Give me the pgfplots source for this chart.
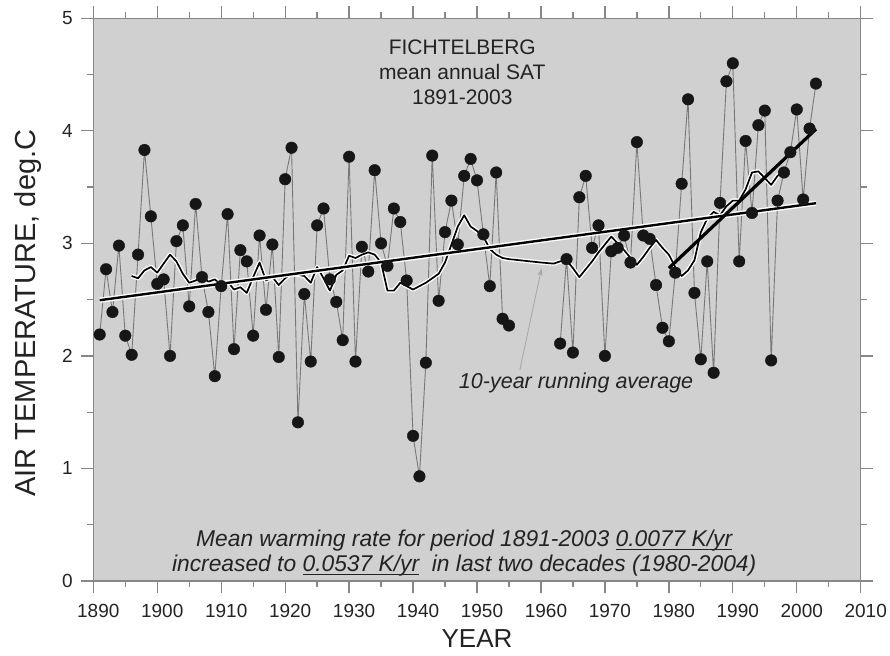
\documentclass[border=0pt]{standalone}
\usepackage{fontspec}
\setmainfont{Liberation Sans}
\usepackage{pgfplots}
\pgfplotsset{compat=1.18}
\usepackage{pgfplotstable}
\usetikzlibrary{arrows.meta}

\definecolor{panel}{RGB}{208,208,208}
\definecolor{frame}{RGB}{135,135,135}
\definecolor{link}{RGB}{120,120,120}
\definecolor{dot}{RGB}{22,22,22}
\definecolor{txt}{RGB}{35,35,35}

% underline sitting close to the baseline
\newcommand\ul[1]{\setbox0\hbox{#1}\rlap{\rule[-3.6pt]{\wd0}{1.1pt}}\box0}

% mean annual surface air temperature, Fichtelberg (nan = no record)
\pgfplotstableread{
year sat
1891 2.19
1892 2.77
1893 2.39
1894 2.98
1895 2.18
1896 2.01
1897 2.90
1898 3.83
1899 3.24
1900 2.64
1901 2.68
1902 2.00
1903 3.02
1904 3.16
1905 2.44
1906 3.35
1907 2.70
1908 2.39
1909 1.82
1910 2.62
1911 3.26
1912 2.06
1913 2.94
1914 2.84
1915 2.18
1916 3.07
1917 2.41
1918 2.99
1919 1.99
1920 3.57
1921 3.85
1922 1.41
1923 2.55
1924 1.95
1925 3.16
1926 3.31
1927 2.68
1928 2.48
1929 2.14
1930 3.77
1931 1.95
1932 2.97
1933 2.75
1934 3.65
1935 3.00
1936 2.80
1937 3.31
1938 3.19
1939 2.67
1940 1.29
1941 0.93
1942 1.94
1943 3.78
1944 2.49
1945 3.10
1946 3.38
1947 2.99
1948 3.60
1949 3.75
1950 3.56
1951 3.08
1952 2.62
1953 3.63
1954 2.33
1955 2.27
1959 nan
1963 2.11
1964 2.86
1965 2.03
1966 3.41
1967 3.60
1968 2.96
1969 3.16
1970 2.00
1971 2.93
1972 2.96
1973 3.07
1974 2.83
1975 3.90
1976 3.07
1977 3.04
1978 2.63
1979 2.25
1980 2.13
1981 2.74
1982 3.53
1983 4.28
1984 2.56
1985 1.97
1986 2.84
1987 1.85
1988 3.36
1989 4.44
1990 4.60
1991 2.84
1992 3.91
1993 3.27
1994 4.05
1995 4.18
1996 1.96
1997 3.38
1998 3.63
1999 3.81
2000 4.19
2001 3.39
2002 4.02
2003 4.42
}\annual

% 10-year running average
\pgfplotstableread{
year avg
1896 2.71
1897 2.69
1898 2.76
1899 2.79
1900 2.74
1901 2.82
1902 2.90
1903 2.84
1904 2.73
1905 2.65
1906 2.67
1907 2.70
1908 2.66
1909 2.68
1910 2.63
1911 2.66
1912 2.59
1913 2.61
1914 2.56
1915 2.70
1916 2.83
1917 2.67
1918 2.70
1919 2.63
1920 2.69
1921 2.73
1922 2.72
1923 2.71
1924 2.65
1925 2.79
1926 2.69
1927 2.58
1928 2.72
1929 2.76
1930 2.89
1931 2.87
1932 2.90
1933 2.92
1934 2.90
1935 2.83
1936 2.58
1937 2.58
1938 2.65
1939 2.62
1940 2.59
1941 2.62
1942 2.65
1943 2.69
1944 2.73
1945 2.83
1946 2.99
1947 3.15
1948 3.25
1949 3.15
1950 3.11
1951 3.06
1952 2.95
1953 2.90
1954 2.87
1955 2.86
1960 2.83
1962 2.82
1963 2.84
1964 2.85
1965 2.78
1966 2.70
1967 2.77
1968 2.84
1969 2.92
1970 2.99
1971 3.06
1972 3.00
1973 2.94
1974 2.87
1975 2.81
1976 2.88
1977 2.96
1978 3.03
1979 2.96
1980 2.90
1981 2.79
1982 2.71
1983 2.76
1984 2.85
1985 3.10
1986 3.22
1987 3.28
1988 3.25
1989 3.33
1990 3.38
1991 3.38
1992 3.48
1993 3.63
1994 3.64
1995 3.58
1996 3.52
1997 3.60
1998 3.65
}\running

\begin{document}
\begin{tikzpicture}
\path[use as bounding box] (-93.3pt,-74pt) rectangle (796.7pt,581pt);
\begin{axis}[
  at={(0,0)}, anchor=south west,
  scale only axis, width=767.4pt, height=562.7pt,
  xmin=1890, xmax=2010, ymin=0, ymax=5,
  xtick={1890,1900,...,2010}, ytick={0,1,...,5},
  minor x tick num=1, minor y tick num=1,
  tick align=outside,
  major tick length=12pt, minor tick length=6pt,
  every tick/.style={frame, line width=1.3pt},
  axis line style={frame, line width=1.5pt},
  axis background/.style={fill=panel},
  /pgf/number format/assume math mode=true,
  /pgf/number format/1000 sep={},
  tick label style={font=\fontsize{19}{22}\selectfont, text=txt},
  xticklabel style={xshift=5pt, yshift=-8pt},
  yticklabel style={xshift=-5pt},
  xlabel={YEAR}, ylabel={AIR TEMPERATURE, deg.C},
  xlabel style={font=\fontsize{26}{30}\selectfont, text=txt,
    at={(axis description cs:0.5,0)}, anchor=base, yshift=-66pt},
  ylabel style={font=\fontsize{29}{33}\selectfont, text=txt,
    at={(axis description cs:-0.0747,0.476)}, anchor=base},
  unbounded coords=jump,
  clip=false,
]
% thin links between the annual values
\addplot[link, line width=0.9pt, no marks] table[x=year, y=sat] {\annual};
% annual values
\addplot[only marks, mark=*, mark size=5.8pt, mark options={fill=dot, draw=dot}] table[x=year, y=sat] {\annual};
% running average with white halo
\addplot[white, line width=4.4pt, no marks, line join=round] table[x=year, y=avg] {\running};
\addplot[black, line width=1.7pt, no marks, line join=round] table[x=year, y=avg] {\running};
% linear trend 1891-2003 (0.0077 K/yr)
\addplot[white, line width=5.2pt, no marks] coordinates {(1891,2.495) (2003,3.357)};
\addplot[black, line width=2.4pt, no marks] coordinates {(1891,2.495) (2003,3.357)};
% linear trend 1980-2003 (0.0537 K/yr)
\addplot[black, line width=3.2pt, no marks] coordinates {(1980,2.78) (2003,4.015)};

\node[align=center, text=txt, font=\fontsize{21}{25}\selectfont] at (axis cs:1947.7,4.52)
  {FICHTELBERG\\mean annual SAT\\1891-2003};
\draw[gray!70, line width=0.8pt, -{Stealth[length=8pt,width=5pt]}] (axis cs:1956.7,1.876) -- (axis cs:1960.1,2.78);
\node[text=txt, font=\itshape\fontsize{21.5}{25}\selectfont] at (axis cs:1965.5,1.76) {10-year running average};
\node[align=center, text=txt, font=\itshape\fontsize{22.8}{24.5}\selectfont] at (axis cs:1948,0.25)
  {Mean warming rate for period 1891-2003 \ul{0.0077 K/yr}\\
   increased to \ul{0.0537 K/yr}\ \ in last two decades (1980-2004)};
\end{axis}
\end{tikzpicture}
\end{document}
